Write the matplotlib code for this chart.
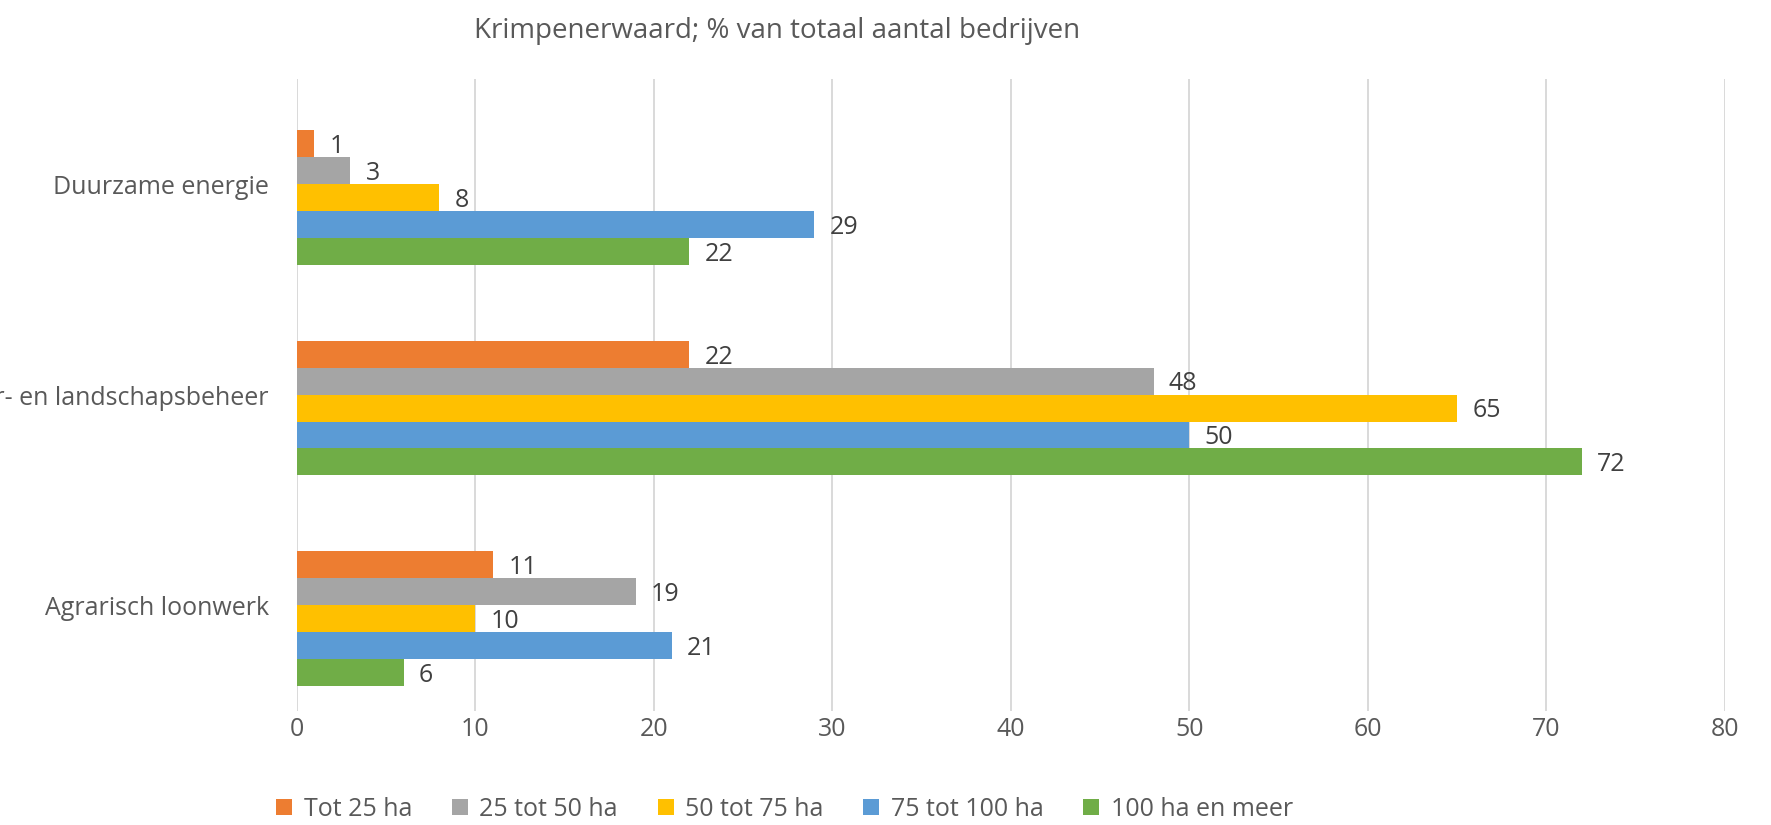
import matplotlib
matplotlib.use("Agg")
import matplotlib.pyplot as plt
import numpy as np

categories = ["Agrarisch loonwerk", "Natuur- en landschapsbeheer", "Duurzame energie"]
series = ["Tot 25 ha", "25 tot 50 ha", "50 tot 75 ha", "75 tot 100 ha", "100 ha en meer"]
tot25 = [11, 22, 1]
t25_50 = [19, 48, 3]
t50_75 = [10, 65, 8]
t75_100 = [21, 50, 29]
ha100 = [6, 72, 22]
values = [tot25, t25_50, t50_75, t75_100, ha100]
colors = ["#ED7D31", "#A5A5A5", "#FFC000", "#5B9BD5", "#70AD47"]
xticks = [0, 10, 20, 30, 40, 50, 60, 70, 80]

plt.rcParams['font.family'] = ['Open Sans', 'DejaVu Sans']
txt = "#595959"

fig = plt.figure(figsize=(17.71, 8.25), dpi=100)
ax = fig.add_axes([0.1675, 0.1382, 0.8064, 0.766])

h = 0.1278
shift = -0.062
y = np.arange(len(categories))
for i, (name, vals, c) in enumerate(zip(series, values, colors)):
    pos = y + shift + (2 - i) * h
    bars = ax.barh(pos, vals, height=h, color=c, label=name, zorder=3)
    for b, v in zip(bars, vals):
        ax.annotate(str(v), (v, b.get_y() + b.get_height() / 2), xytext=(11, -2),
                    textcoords='offset points', va='center', ha='left',
                    fontsize=18, color="#404040", zorder=4)

ax.set_xlim(0, 80)
ax.set_ylim(-0.5, 2.5)
ax.set_xticks(xticks)
ax.set_yticks(y)
ax.set_yticklabels(categories)
ax.tick_params(axis='both', length=0, labelsize=18, colors=txt)
ax.tick_params(axis='y', pad=20)
ax.tick_params(axis='x', pad=4)
ax.grid(axis='x', color="#D9D9D9", linewidth=1.4, zorder=0)
for s in ax.spines.values():
    s.set_visible(False)

fig.text(0.439, 0.962, "Krimpenerwaard; % van totaal aantal bedrijven", ha='center', va='center',
         fontsize=20, color=txt)

fig.legend(loc='center', bbox_to_anchor=(0.443, 0.019), ncol=5, frameon=False, fontsize=18,
           handlelength=0.64, handleheight=0.64, handletextpad=0.45, columnspacing=1.6,
           labelcolor=txt)

fig.savefig("out.png", dpi=100, facecolor='white')
